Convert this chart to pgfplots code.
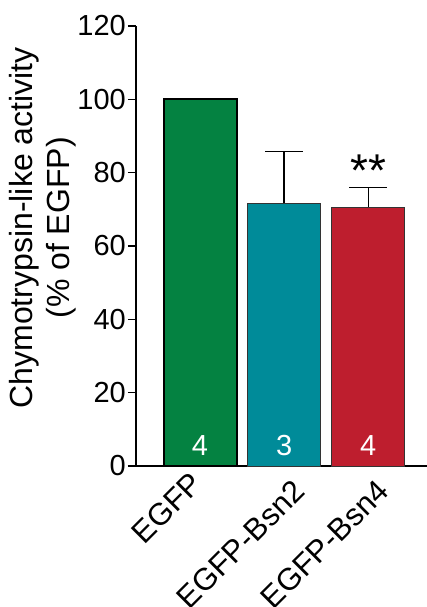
\documentclass[border=0pt]{standalone}
\usepackage{fontspec}
\setmainfont{Liberation Sans}
\usepackage{pgfplots}
\pgfplotsset{compat=1.18}
\definecolor{cgreen}{RGB}{4,130,65}
\definecolor{cteal}{RGB}{0,139,153}
\definecolor{cred}{RGB}{190,30,46}
\begin{document}
\begin{tikzpicture}
\begin{axis}[name=ax, scale only axis, width=291pt, height=440pt,
  xmin=-0.762, xmax=2.70, ymin=0, ymax=120,
  axis lines=left, axis line style={-, line width=1.3pt, black},
  x axis line style={shorten <=-8pt},
  ytick={0,20,...,120}, xtick={1,2},
  xticklabels={EGFP-Bsn2,EGFP-Bsn4},
  extra x ticks={0}, extra x tick labels={EGFP},
  extra x tick style={major tick length=0pt, xticklabel style={xshift=-12.7pt, yshift=12.7pt}},
  /pgf/number format/assume math mode=true,
  tick align=outside, major tick length=8pt,
  tick style={line width=1.3pt, black},
  x tick style={draw=none},
  yticklabel style={font=\fontsize{29}{29}\selectfont, inner sep=2pt},
  xticklabel style={font=\fontsize{31}{31}\selectfont, xshift=7pt, yshift=-1pt, rotate=45, anchor=north east, inner sep=2pt},
  ylabel={Chymotrypsin-like activity\\(\% of EGFP)},
  ylabel style={font=\fontsize{32}{37}\selectfont, align=center, at={(axis description cs:-0.192,0.541)}, anchor=south},
  ybar, bar width=73pt, bar shift=0pt,
  clip=false,
]
\addplot[fill=cgreen, draw=black, line width=2pt] coordinates {(0,100)};
\addplot[fill=cteal, draw=black!80, line width=1pt,
  error bars/.cd, y dir=plus, y explicit,
  error bar style={line width=1.3pt, black},
  error mark options={rotate=90, mark size=19pt, line width=1.3pt, black}]
  coordinates {(1,71.6) +- (0,14.1)};
\addplot[fill=cred, draw=black!80, line width=1pt,
  error bars/.cd, y dir=plus, y explicit,
  error bar style={line width=1.3pt, black},
  error mark options={rotate=90, mark size=19pt, line width=1.3pt, black}]
  coordinates {(2,70.6) +- (0,5.4)};
\node[white, font=\fontsize{29}{29}\selectfont] at (axis cs:0,5.6) {4};
\node[white, font=\fontsize{29}{29}\selectfont] at (axis cs:1,5.6) {3};
\node[white, font=\fontsize{29}{29}\selectfont] at (axis cs:2,5.6) {4};
\node[font=\fontsize{46}{46}\selectfont, anchor=north, inner sep=0pt] at (axis cs:2,84.9) {**};
\end{axis}
\pgfresetboundingbox
\path ([shift={(-136pt,466pt)}]ax.south west) rectangle ([shift={(291pt,-141pt)}]ax.south west);
\end{tikzpicture}
\end{document}
